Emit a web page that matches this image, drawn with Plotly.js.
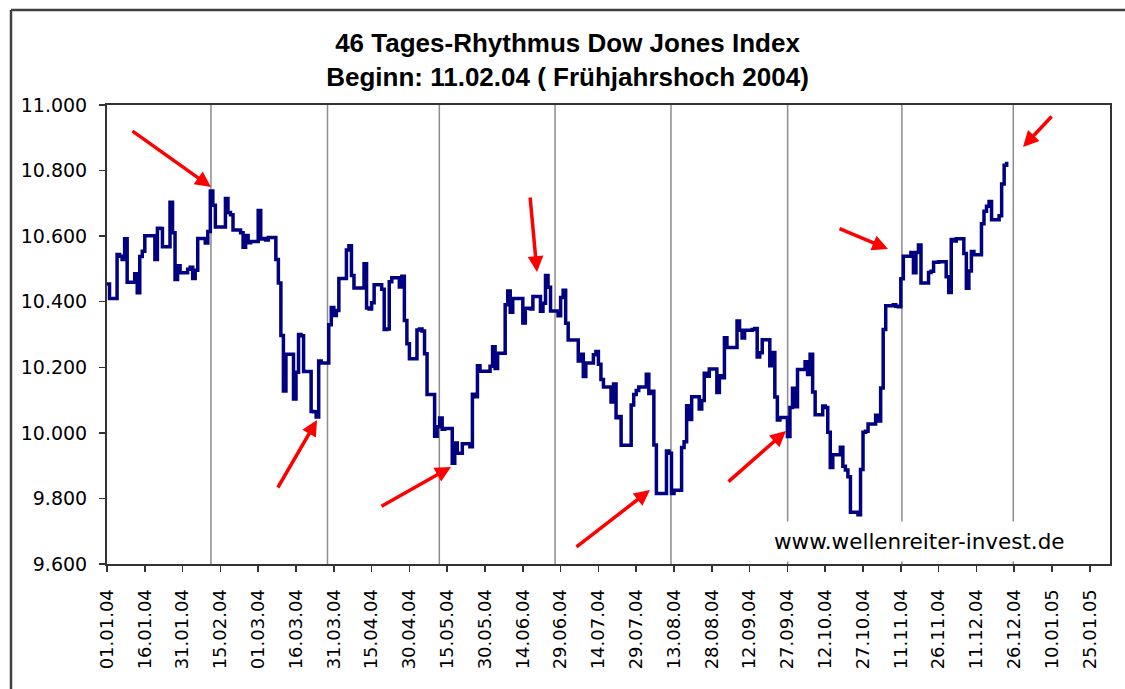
<!DOCTYPE html>
<html>
<head>
<meta charset="utf-8">
<script src="https://cdn.plot.ly/plotly-3.0.1.min.js"></script>
<style>
  html, body { margin: 0; padding: 0; background: #fff; }
  #chart { width: 1125px; height: 689px; }
</style>
</head>
<body>
<div id="chart"></div>
<script>
// ---- Data ----
const dates = [
  "2004-01-01","2004-01-02","2004-01-05","2004-01-06","2004-01-07","2004-01-08","2004-01-09",
  "2004-01-12","2004-01-13","2004-01-14","2004-01-15","2004-01-16","2004-01-20","2004-01-21",
  "2004-01-22","2004-01-23","2004-01-26","2004-01-27","2004-01-28","2004-01-29","2004-01-30",
  "2004-02-02","2004-02-03","2004-02-04","2004-02-05","2004-02-06","2004-02-09","2004-02-10",
  "2004-02-11","2004-02-12","2004-02-13","2004-02-17","2004-02-18","2004-02-19","2004-02-20",
  "2004-02-23","2004-02-24","2004-02-25","2004-02-26","2004-02-27","2004-03-01","2004-03-02",
  "2004-03-03","2004-03-04","2004-03-05","2004-03-08","2004-03-09","2004-03-10","2004-03-11",
  "2004-03-12","2004-03-15","2004-03-16","2004-03-17","2004-03-18","2004-03-19","2004-03-22",
  "2004-03-23","2004-03-24","2004-03-25","2004-03-26","2004-03-29","2004-03-30","2004-03-31",
  "2004-04-01","2004-04-02","2004-04-05","2004-04-06","2004-04-07","2004-04-08","2004-04-12",
  "2004-04-13","2004-04-14","2004-04-15","2004-04-16","2004-04-19","2004-04-20","2004-04-21",
  "2004-04-22","2004-04-23","2004-04-26","2004-04-27","2004-04-28","2004-04-29","2004-04-30",
  "2004-05-03","2004-05-04","2004-05-05","2004-05-06","2004-05-07","2004-05-10","2004-05-11",
  "2004-05-12","2004-05-13","2004-05-14","2004-05-17","2004-05-18","2004-05-19","2004-05-20",
  "2004-05-21","2004-05-24","2004-05-25","2004-05-26","2004-05-27","2004-05-28","2004-06-01",
  "2004-06-02","2004-06-03","2004-06-04","2004-06-07","2004-06-08","2004-06-09","2004-06-10",
  "2004-06-14","2004-06-15","2004-06-16","2004-06-17","2004-06-18","2004-06-21","2004-06-22",
  "2004-06-23","2004-06-24","2004-06-25","2004-06-28","2004-06-29","2004-06-30","2004-07-01",
  "2004-07-02","2004-07-06","2004-07-07","2004-07-08","2004-07-09","2004-07-12","2004-07-13",
  "2004-07-14","2004-07-15","2004-07-16","2004-07-19","2004-07-20","2004-07-21","2004-07-22",
  "2004-07-23","2004-07-26","2004-07-27","2004-07-28","2004-07-29","2004-07-30","2004-08-02",
  "2004-08-03","2004-08-04","2004-08-05","2004-08-06","2004-08-09","2004-08-10","2004-08-11",
  "2004-08-12","2004-08-13","2004-08-16","2004-08-17","2004-08-18","2004-08-19","2004-08-20",
  "2004-08-23","2004-08-24","2004-08-25","2004-08-26","2004-08-27","2004-08-30","2004-08-31",
  "2004-09-01","2004-09-02","2004-09-03","2004-09-07","2004-09-08","2004-09-09","2004-09-10",
  "2004-09-13","2004-09-14","2004-09-15","2004-09-16","2004-09-17","2004-09-20","2004-09-21",
  "2004-09-22","2004-09-23","2004-09-24","2004-09-27","2004-09-28","2004-09-29","2004-09-30",
  "2004-10-01","2004-10-04","2004-10-05","2004-10-06","2004-10-07","2004-10-08","2004-10-11",
  "2004-10-12","2004-10-13","2004-10-14","2004-10-15","2004-10-18","2004-10-19","2004-10-20",
  "2004-10-21","2004-10-22","2004-10-25","2004-10-26","2004-10-27","2004-10-28","2004-10-29",
  "2004-11-01","2004-11-02","2004-11-03","2004-11-04","2004-11-05","2004-11-08","2004-11-09",
  "2004-11-10","2004-11-11","2004-11-12","2004-11-15","2004-11-16","2004-11-17","2004-11-18",
  "2004-11-19","2004-11-22","2004-11-23","2004-11-24","2004-11-26","2004-11-29","2004-11-30",
  "2004-12-01","2004-12-02","2004-12-03","2004-12-06","2004-12-07","2004-12-08","2004-12-09",
  "2004-12-10","2004-12-13","2004-12-14","2004-12-15","2004-12-16","2004-12-17","2004-12-20",
  "2004-12-21","2004-12-22","2004-12-23"
];
const dowValues = [
  10454,10410,10544,10539,10529,10592,10459,
  10485,10427,10538,10554,10601,10529,10624,
  10623,10568,10703,10610,10468,10510,10488,
  10499,10505,10471,10496,10593,10579,10614,
  10738,10694,10628,10715,10672,10665,10619,
  10610,10566,10602,10580,10584,10678,10591,
  10593,10588,10596,10529,10457,10297,10128,
  10240,10103,10185,10300,10296,10187,10065,
  10064,10048,10219,10213,10330,10382,10358,
  10373,10471,10558,10571,10480,10442,10516,
  10381,10378,10397,10452,10438,10315,10317,
  10461,10473,10445,10478,10343,10272,10226,
  10314,10317,10311,10241,10117,9990,10019,
  10045,10011,10013,9907,9969,9938,9938,
  9967,9958,10118,10110,10205,10188,10203,
  10263,10196,10243,10391,10433,10368,10410,
  10335,10380,10380,10378,10416,10371,10395,
  10480,10444,10372,10357,10413,10435,10334,
  10283,10219,10240,10172,10213,10238,10248,
  10209,10163,10140,10094,10149,10046,10050,
  9962,9962,10085,10117,10129,10140,10179,
  10120,10127,9963,9815,9815,9945,9938,
  9815,9825,9955,9973,10083,10041,10110,
  10073,10099,10182,10173,10195,10123,10174,
  10168,10290,10260,10341,10313,10289,10313,
  10315,10318,10231,10244,10284,10205,10245,
  10109,10039,10047,9989,10077,10136,10080,
  10193,10217,10178,10240,10125,10055,10082,
  10077,10002,9894,9933,9956,9898,9887,
  9866,9758,9750,9888,10002,10005,10027,
  10054,10036,10137,10315,10388,10391,10386,
  10385,10470,10539,10550,10488,10550,10573,
  10457,10489,10493,10520,10522,10476,10428,
  10590,10585,10592,10547,10441,10494,10553,
  10543,10638,10676,10691,10706,10650,10662,
  10759,10816,10827
];
// 46-day rhythm marker lines (as drawn in the reference)
const cycleDates = [
  "2004-02-11 06:00","2004-03-28 12:00","2004-05-11 21:00","2004-06-26 19:00",
  "2004-08-11 19:00","2004-09-27 02:00","2004-11-11 10:00","2004-12-25 15:00"
];
const titleLines = ["46 Tages-Rhythmus Dow Jones Index", "Beginn: 11.02.04 ( Frühjahrshoch 2004)"];
const sourceText = "www.wellenreiter-invest.de";
const yTickValues = [9600, 9800, 10000, 10200, 10400, 10600, 10800, 11000];

// ---- Layout geometry (pixels) ----
const W = 1125, H = 689;
const M = { l: 107, r: 15, t: 105, b: 125 };
const PW = W - M.l - M.r, PH = H - M.t - M.b;
const px = x => (x - M.l) / PW;
const py = y => 1 - (y - M.t) / PH;

// red arrows: [tailX, tailY, headX, headY] in pixels
const arrows = [
  [131,130, 211,187],
  [277,489, 317,420],
  [380,507, 451,467],
  [530,196, 537,272],
  [575,548, 650,490],
  [727,483, 786,431],
  [838,228, 888,249],
  [1053,115, 1023,147]
];

const trace = {
  x: dates, y: dowValues, type: 'scatter', mode: 'lines',
  line: { color: '#000080', width: 3.5, shape: 'hv' },
  hoverinfo: 'x+y'
};

const shapes = cycleDates.map(d => ({
  type: 'line', xref: 'x', yref: 'paper', x0: d, x1: d, y0: 0, y1: 1,
  line: { color: '#8c8c8c', width: 1.5 }, layer: 'below'
}));
// outer chart-area frame (top and left edges visible in the reference)
shapes.push({ type: 'line', xref: 'paper', yref: 'paper', x0: px(11), x1: px(1140), y0: py(10), y1: py(10),
  line: { color: '#404040', width: 2.5 } });
shapes.push({ type: 'line', xref: 'paper', yref: 'paper', x0: px(11), x1: px(11), y0: py(10), y1: py(700),
  line: { color: '#404040', width: 2.5 } });

const annotations = arrows.map(a => ({
  xref: 'paper', yref: 'paper', x: px(a[2]), y: py(a[3]),
  ax: a[0] - a[2], ay: a[1] - a[3], axref: 'pixel', ayref: 'pixel',
  text: '', showarrow: true, arrowhead: 2, arrowsize: 0.9, arrowwidth: 3.5,
  arrowcolor: '#ff0000', standoff: 0
}));
annotations.push({
  xref: 'paper', yref: 'paper', x: px(766), y: py(541.5), xanchor: 'left', yanchor: 'middle',
  text: sourceText, showarrow: false, bgcolor: '#ffffff', borderpad: 7,
  font: { family: 'DejaVu Sans', size: 21.5, color: '#000' }
});

const layout = {
  width: W, height: H,
  margin: M,
  paper_bgcolor: '#ffffff', plot_bgcolor: '#ffffff',
  separators: ',.',
  showlegend: false,
  title: {
    text: titleLines.join('<br>'),
    font: { family: 'Liberation Sans, Arial, sans-serif', size: 26, color: '#000', weight: 'bold' },
    xref: 'container', yref: 'container', x: 567.5 / W, y: 1 - 52 / H, xanchor: 'center', yanchor: 'top'
  },
  xaxis: {
    type: 'date',
    range: ['2004-01-01', '2005-02-02'],
    tick0: '2004-01-01', dtick: 15 * 86400000,
    tickformat: '%d.%m.%y', tickangle: -90,
    ticks: 'outside', ticklen: 6, tickwidth: 1.5, tickcolor: '#333',
    ticklabelstandoff: 10,
    showline: true, linecolor: '#333', linewidth: 2, mirror: true,
    showgrid: false, zeroline: false,
    tickfont: { family: 'DejaVu Sans', size: 18, color: '#000' }
  },
  yaxis: {
    range: [9600, 11000],
    tickvals: yTickValues, tickformat: ',d',
    ticks: 'outside', ticklen: 6, tickwidth: 1.5, tickcolor: '#333',
    ticklabelstandoff: 8,
    showline: true, linecolor: '#333', linewidth: 2, mirror: true,
    showgrid: false, zeroline: false,
    tickfont: { family: 'DejaVu Sans', size: 19, color: '#000' }
  },
  shapes: shapes,
  annotations: annotations
};

Plotly.newPlot('chart', [trace], layout, { displayModeBar: false, staticPlot: true });
</script>
</body>
</html>
